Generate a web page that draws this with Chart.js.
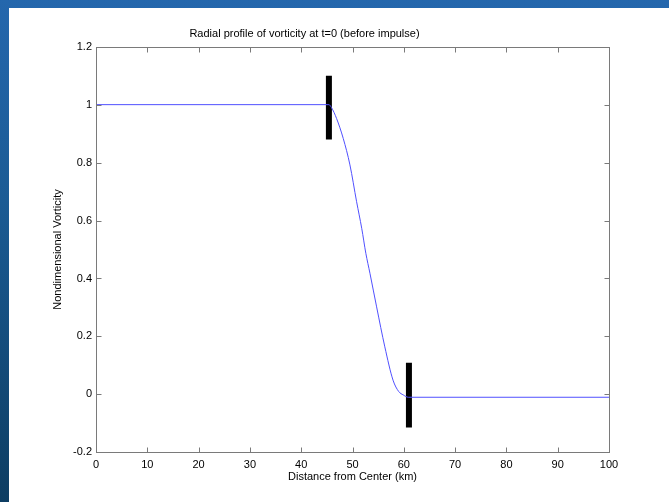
<!DOCTYPE html>
<html>
<head>
<meta charset="utf-8">
<script src="https://cdn.jsdelivr.net/npm/chart.js@4"></script>
<style>
  html, body { margin: 0; padding: 0; }
  body {
    width: 669px; height: 502px; overflow: hidden; position: relative;
    background: linear-gradient(to bottom, #2467ad 0%, #1b5b94 40%, #0d3d62 100%);
  }
  #paper { position: absolute; left: 9px; top: 8px; right: 0; bottom: 0; background: #fff; }
  #chart { position: absolute; left: 0; top: 0; }
</style>
</head>
<body>
<div id="paper"></div>
<canvas id="chart" width="669" height="502"></canvas>
<script>
// radial profile
const radius = [0, 45.4, 45.9, 46.9, 48.2, 49.5, 50.8, 51.8, 52.6, 53.4, 54.7, 56.3, 57.9, 59.0, 59.9, 60.9, 100]
const vorticity = [1.0, 1.0, 0.99, 0.952, 0.883, 0.792, 0.665, 0.573, 0.487, 0.418, 0.302, 0.164, 0.049, 0.01, -0.002, -0.01, -0.01]

// the two thick black markers
const markerX = [45.4, 61.0]
const markerTop = [1.1, 0.109]
const markerBottom = [0.88, -0.114]

const xTicks = [0, 10, 20, 30, 40, 50, 60, 70, 80, 90, 100]
const yTicks = [-0.2, 0, 0.2, 0.4, 0.6, 0.8, 1, 1.2]

const font = { family: "'Liberation Sans', Arial, sans-serif", size: 11 }

const boxPlugin = {
    id: 'matlabBox',
    afterDatasetsDraw(chart) {
        const ctx = chart.ctx
        const a = chart.chartArea
        const xs = chart.scales.x
        const ys = chart.scales.y
        const L = Math.round(a.left) + 0.5, R = Math.round(a.right) + 0.5
        const T = Math.round(a.top) + 0.5, B = Math.round(a.bottom) + 0.5
        ctx.save()
        ctx.strokeStyle = '#7a7a7a'
        ctx.lineWidth = 1
        ctx.strokeRect(L, T, R - L, B - T)
        ctx.beginPath()
        xTicks.forEach(v => {
            const px = Math.round(xs.getPixelForValue(v)) + 0.5
            ctx.moveTo(px, B); ctx.lineTo(px, B - 5)
            ctx.moveTo(px, T); ctx.lineTo(px, T + 5)
        })
        yTicks.forEach(v => {
            const py = Math.round(ys.getPixelForValue(v)) + 0.5
            ctx.moveTo(L, py); ctx.lineTo(L + 5, py)
            ctx.moveTo(R, py); ctx.lineTo(R - 5, py)
        })
        ctx.stroke()
        ctx.restore()
    }
}

const datasets = [{
    data: radius.map((r, i) => ({ x: r, y: vorticity[i] })),
    borderColor: '#5050ff',
    borderWidth: 1,
    pointRadius: 0,
    cubicInterpolationMode: 'monotone'
}]
markerX.forEach((mx, i) => {
    datasets.push({
        data: [{ x: mx, y: markerTop[i] }, { x: mx, y: markerBottom[i] }],
        borderColor: '#000',
        borderWidth: 6,
        borderCapStyle: 'butt',
        pointRadius: 0
    })
})

new Chart(document.getElementById('chart').getContext('2d'), {
    type: 'line',
    data: { datasets: datasets },
    options: {
        responsive: false,
        animation: false,
        layout: { padding: { left: 0, right: 60, top: 0, bottom: 0 } },
        plugins: {
            legend: { display: false },
            tooltip: { enabled: false },
            title: {
                display: true,
                text: 'Radial profile of vorticity at t=0 (before impulse)',
                color: '#000',
                font: { ...font, weight: 'normal' },
                padding: { top: 27.4, bottom: 6.1 }
            }
        },
        scales: {
            x: {
                type: 'linear',
                min: 0, max: 100,
                afterBuildTicks: s => { s.ticks = xTicks.map(v => ({ value: v })) },
                afterFit: s => { s.height = 49.7 },
                grid: { display: false, drawTicks: false },
                border: { display: false },
                ticks: { color: '#000', font: font, padding: 6, maxRotation: 0 },
                title: {
                    display: true, text: 'Distance from Center (km)', color: '#000', font: font,
                    padding: { top: 0, bottom: 18.4 }
                }
            },
            y: {
                type: 'linear',
                min: -0.2, max: 1.2,
                afterBuildTicks: s => { s.ticks = yTicks.map(v => ({ value: v })) },
                afterFit: s => { s.width = 96 },
                grid: { display: false, drawTicks: false },
                border: { display: false },
                ticks: { color: '#000', font: font, padding: 4, callback: v => String(+v.toFixed(1)) },
                title: {
                    display: true, text: 'Nondimensional Vorticity', color: '#000', font: font,
                    padding: { top: 51.4, bottom: 0 }
                }
            }
        }
    },
    plugins: [boxPlugin]
})
</script>
</body>
</html>
